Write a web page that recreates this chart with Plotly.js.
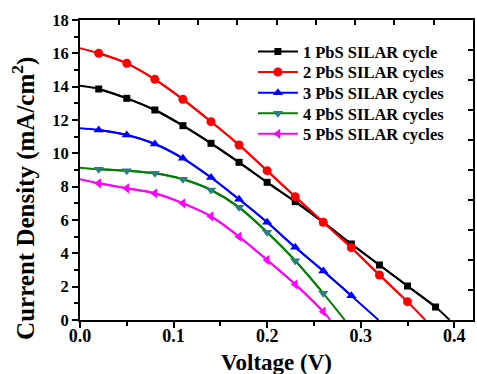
<!DOCTYPE html>
<html>
<head>
<meta charset="utf-8">
<script src="https://cdn.plot.ly/plotly-3.0.1.min.js"></script>
<style>html,body{margin:0;padding:0;background:#fff;}#chart{width:477px;height:374px;}</style>
</head>
<body>
<div id="chart"></div>
<script>
// Voltage (V) at which markers are drawn
const V = [0.02, 0.05, 0.08, 0.11, 0.14, 0.17, 0.20, 0.23, 0.26, 0.29, 0.32, 0.35, 0.38];
// Series names
const names = ["1 PbS SILAR cycle", "2 PbS SILAR cycles", "3 PbS SILAR cycles", "4 PbS SILAR cycles", "5 PbS SILAR cycles"];
// Current density at V = 0 (short circuit)
const Jsc = [14.05, 16.3, 11.5, 9.14, 8.44];
// Open-circuit voltage (J = 0)
const Voc = [0.395, 0.369, 0.319, 0.283, 0.2675];
// Current density (mA/cm2) at the marker voltages
const J1 = [13.86, 13.3, 12.6, 11.66, 10.6, 9.46, 8.26, 7.1, 5.86, 4.56, 3.3, 2.04, 0.78];
const J2 = [16.0, 15.4, 14.44, 13.24, 11.9, 10.5, 8.96, 7.4, 5.86, 4.34, 2.7, 1.1];
const J3 = [11.4, 11.1, 10.56, 9.7, 8.55, 7.24, 5.86, 4.36, 2.94, 1.46];
const J4 = [9.04, 8.96, 8.8, 8.44, 7.8, 6.76, 5.26, 3.56, 1.6];
const J5 = [8.2, 7.9, 7.6, 7.0, 6.22, 5.0, 3.6, 2.14, 0.5];
const series = [J1, J2, J3, J4, J5];

const lineColors = ["#000000", "#ff0000", "#0000ff", "#008000", "#ff00ff"];
const markerColors = ["#000000", "#ff0000", "#0000ff", "#2a8080", "#ff00ff"];
const symbols = ["square", "circle", "triangle-up", "triangle-down", "triangle-left"];
const sizes = [7, 9, 9, 9, 9];

const FONT = "Liberation Serif";
const legendIds = ["legend", "legend2", "legend3", "legend4", "legend5"];
const traces = [];
series.forEach((J, i) => {
  const xv = V.slice(0, J.length);
  traces.push({
    x: [0].concat(xv, [Voc[i]]),
    y: [Jsc[i]].concat(J, [0]),
    mode: "lines",
    line: {color: lineColors[i], width: 2, shape: "spline"},
    showlegend: false, hoverinfo: "skip"
  });
});
series.forEach((J, i) => {
  const xv = V.slice(0, J.length);
  traces.push({
    x: xv, y: J, name: names[i], legend: legendIds[i],
    mode: "lines+markers",
    line: {color: lineColors[i], width: 2, shape: "spline"},
    marker: {color: markerColors[i], symbol: symbols[i], size: sizes[i]}
  });
});
traces.push({x: [], y: [], xaxis: "x2", yaxis: "y2", showlegend: false, hoverinfo: "skip"});

const layout = {
  width: 477, height: 374,
  margin: {l: 80, r: 4, t: 20, b: 54},
  paper_bgcolor: "#fff", plot_bgcolor: "#fff",
  font: {family: FONT, color: "#000", weight: "bold"},
  showlegend: true,
  xaxis: {
    range: [0, 0.42], dtick: 0.1, tick0: 0, tickformat: ".1f",
    ticks: "outside", ticklen: 6, tickwidth: 2, tickcolor: "#000",
    minor: {dtick: 0.05, ticks: "outside", ticklen: 4, tickwidth: 2, tickcolor: "#000"},
    showline: true, linewidth: 2, linecolor: "#000",
    showgrid: false, zeroline: false, ticklabelstandoff: -8,
    tickfont: {family: FONT, size: 18, color: "#000", weight: "bold"}
  },
  yaxis: {
    range: [0, 18], dtick: 2, tick0: 0,
    ticks: "outside", ticklen: 6, tickwidth: 2, tickcolor: "#000",
    minor: {dtick: 1, ticks: "outside", ticklen: 4, tickwidth: 2, tickcolor: "#000"},
    showline: true, linewidth: 2, linecolor: "#000",
    showgrid: false, zeroline: false,
    tickfont: {family: FONT, size: 16.5, color: "#000", weight: "bold"}
  },
  xaxis2: {
    overlaying: "x", side: "top", anchor: "y2", range: [0, 10], dtick: 1,
    ticks: "inside", ticklen: 5, tickwidth: 2, tickcolor: "#000",
    showticklabels: false, showline: true, linewidth: 2, linecolor: "#000",
    showgrid: false, zeroline: false
  },
  yaxis2: {
    overlaying: "y", side: "right", anchor: "x2", range: [0, 10], dtick: 1,
    ticks: "inside", ticklen: 5, tickwidth: 2, tickcolor: "#000",
    showticklabels: false, showline: true, linewidth: 2, linecolor: "#000",
    showgrid: false, zeroline: false
  },
  annotations: [
    {text: "Current Density (mA/cm<sup>2</sup>)", xref: "paper", yref: "paper",
     x: -0.1425, y: 0.407, xanchor: "center", yanchor: "middle", textangle: -90, showarrow: false,
     font: {family: FONT, size: 25, color: "#000", weight: "bold"}},
    {text: "Voltage (V)", xref: "paper", yref: "paper",
     x: 0.5, y: -0.14, xanchor: "center", yanchor: "middle", showarrow: false,
     font: {family: FONT, size: 23, color: "#000", weight: "bold"}}
  ]
};
legendIds.forEach((id, i) => {
  const rowY = 51.7 + 20.6 * i;  // pixel centre of the row
  layout[id] = {
    x: 0.44, y: (320 - rowY) / 300, xanchor: "left", yanchor: "middle",
    bgcolor: "rgba(0,0,0,0)", borderwidth: 0,
    font: {family: FONT, size: 16.5, color: "#000", weight: "bold"},
    itemwidth: 40
  };
});
Plotly.newPlot("chart", traces, layout, {staticPlot: true, displayModeBar: false});
</script>
</body>
</html>
